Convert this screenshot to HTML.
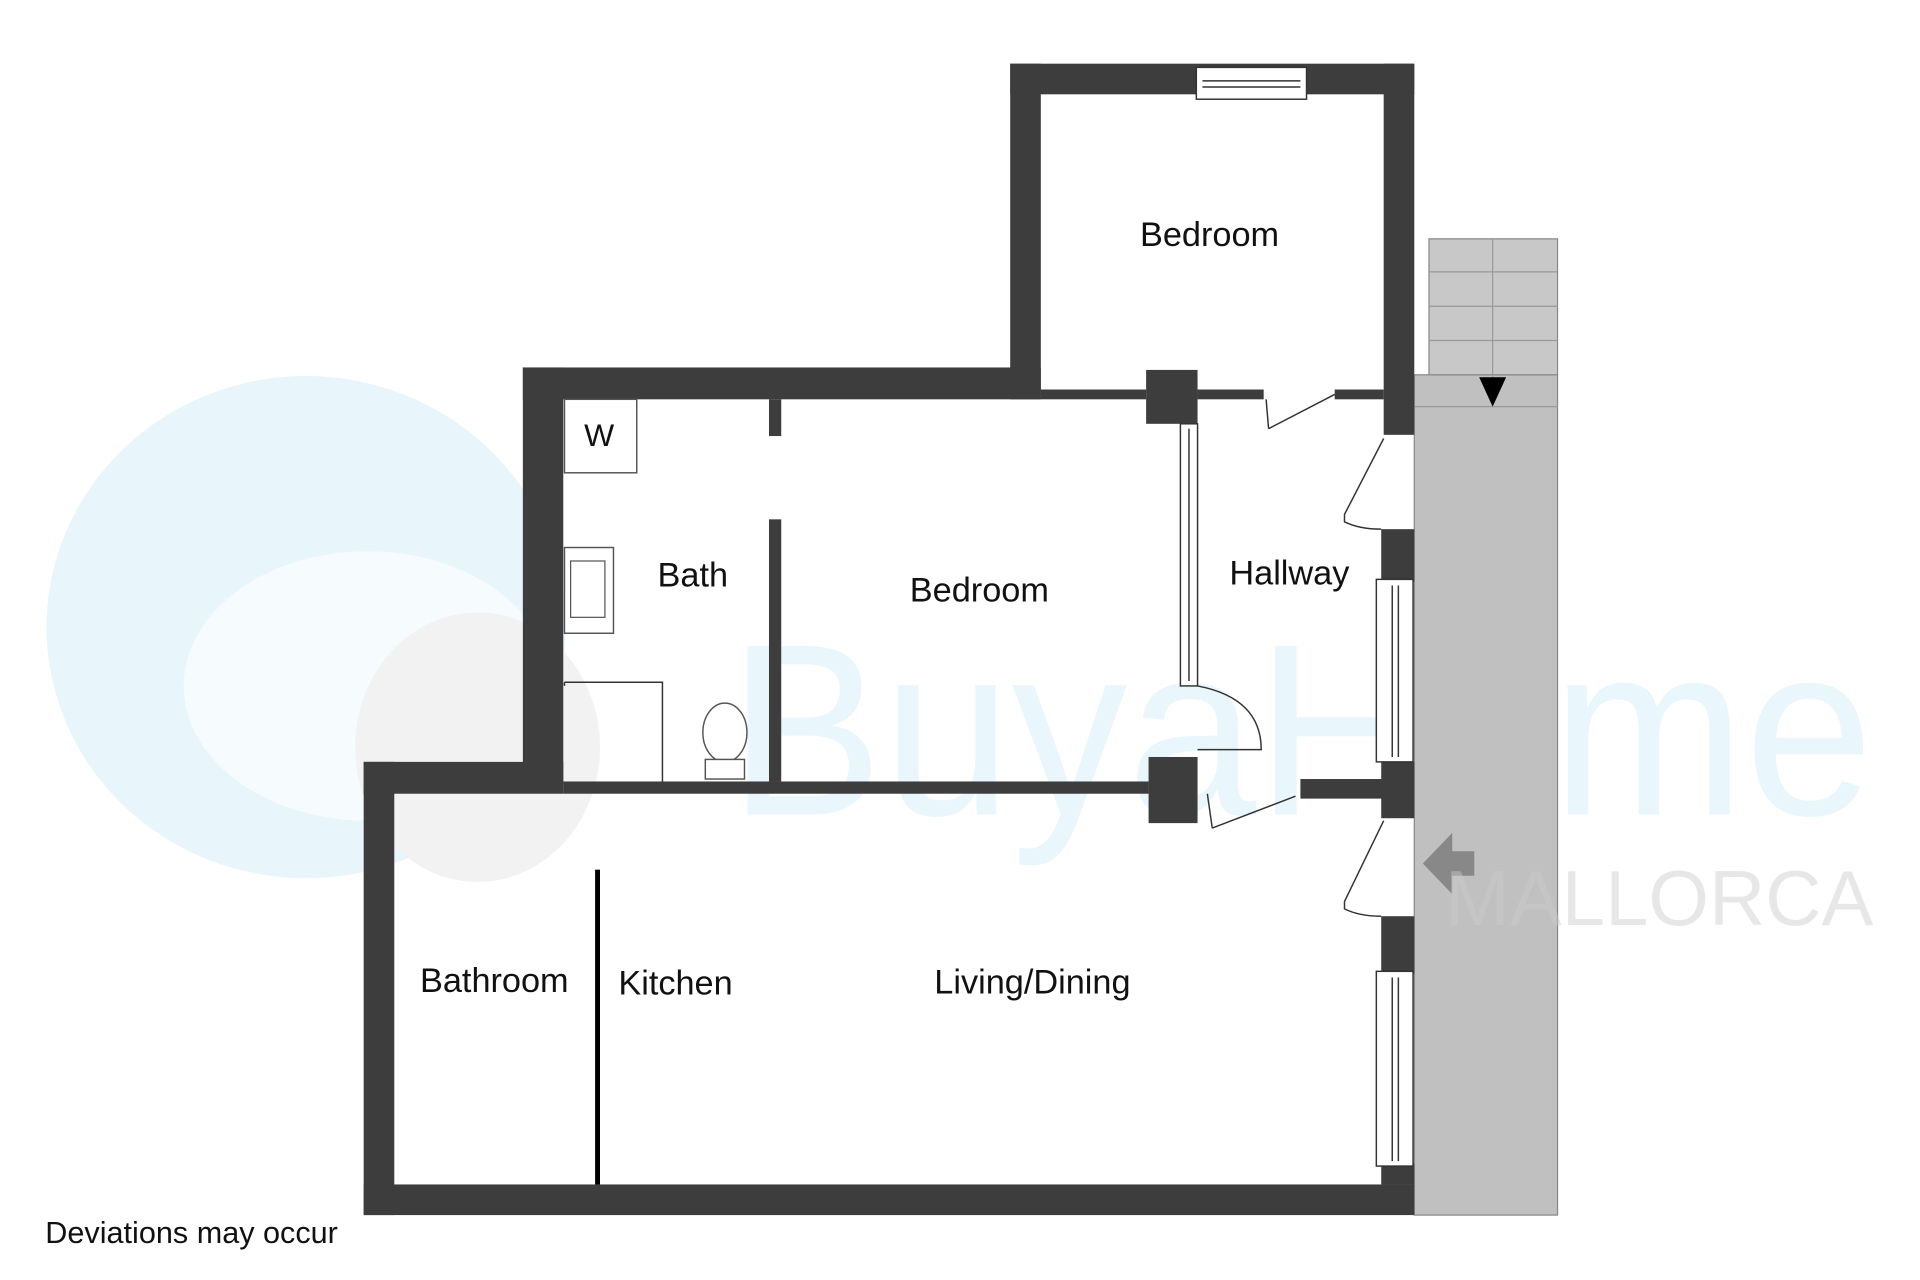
<!DOCTYPE html>
<html><head><meta charset="utf-8"><style>
html,body{margin:0;padding:0;background:#fff;}
svg{display:block;}
text{font-family:"Liberation Sans",sans-serif;}
</style></head><body>
<svg width="1920" height="1280" viewBox="0 0 1568 1045" preserveAspectRatio="none" xmlns="http://www.w3.org/2000/svg">
<rect width="1568" height="1045" fill="#fff"/>
<!-- watermark -->
<ellipse cx="250" cy="512" rx="212" ry="205" fill="#e8f5fb"/>
<ellipse cx="300" cy="560" rx="150" ry="110" fill="#fff" opacity="0.6"/>
<ellipse cx="390" cy="610" rx="100" ry="110" fill="#f2f2f2"/>
<text x="595" y="665" font-size="200" fill="#e9f6fc" textLength="935" lengthAdjust="spacingAndGlyphs">BuyaHome</text>
<!-- right exterior -->
<rect x="1155" y="306" width="117" height="686" fill="#c0c0c0" stroke="#888" stroke-width="1"/>
<rect x="1167" y="195" width="105" height="111" fill="#c8c8c8" stroke="#888" stroke-width="1"/>
<g stroke="#999" stroke-width="1">
<line x1="1167" y1="222" x2="1272" y2="222"/><line x1="1167" y1="250" x2="1272" y2="250"/><line x1="1167" y1="278" x2="1272" y2="278"/>
<line x1="1219" y1="195" x2="1219" y2="330"/><line x1="1155" y1="332" x2="1272" y2="332"/>
</g>
<polygon points="1208,308 1230,308 1219,332" fill="#000"/>
<polygon points="1162,705 1186,680 1186,695 1204,695 1204,715 1186,715 1186,730" fill="#888"/>
<!-- walls -->
<g fill="#3d3d3d">
<rect x="825" y="52" width="330" height="25"/>
<rect x="825" y="52" width="25" height="274"/>
<rect x="1130" y="52" width="25" height="303"/>
<rect x="427" y="300" width="423" height="26"/>
<rect x="427" y="300" width="33" height="340"/>
<rect x="850" y="318" width="86" height="8"/>
<rect x="936" y="302" width="42" height="44"/>
<rect x="978" y="318" width="54" height="8"/>
<rect x="1090" y="318" width="40" height="8"/>
<rect x="297" y="622" width="163" height="26"/>
<rect x="297" y="622" width="25" height="370"/>
<rect x="297" y="967" width="858" height="25"/>
<rect x="460" y="638" width="478" height="10"/>
<rect x="938" y="618" width="40" height="54"/>
<rect x="1062" y="636" width="68" height="16"/>
<rect x="1128" y="432" width="27" height="43"/>
<rect x="1128" y="622" width="27" height="46"/>
<rect x="1128" y="748" width="27" height="47"/>
<rect x="1128" y="950" width="27" height="17"/>
<rect x="628" y="326" width="10" height="30"/>
<rect x="628" y="424" width="10" height="214"/>
</g>
<rect x="486" y="710" width="4" height="257" fill="#000"/>
<!-- windows -->
<g fill="#fff" stroke="#333" stroke-width="1.2">
<rect x="977" y="55" width="90" height="26"/><line x1="982" y1="66" x2="1062" y2="66"/><line x1="982" y1="71" x2="1062" y2="71"/>
<rect x="1124" y="473" width="30" height="149"/><line x1="1137" y1="478" x2="1137" y2="618"/><line x1="1142" y1="478" x2="1142" y2="618"/>
<rect x="1124" y="793" width="30" height="159"/><line x1="1137" y1="798" x2="1137" y2="948"/><line x1="1142" y1="798" x2="1142" y2="948"/>
<rect x="964" y="346" width="14" height="214"/><line x1="971" y1="350" x2="971" y2="556"/>
</g>
<!-- doors -->
<g fill="none" stroke="#333" stroke-width="1.2">
<path d="M1036,350 L1090,322 M1036,350 L1034,326"/>
<path d="M1130,358 L1098,420 L1098,426 Q1110,432 1128,432"/>
<path d="M1130,670 L1098,736 L1098,742 Q1110,748 1128,748"/>
<path d="M978,560 Q1030,570 1030,612 L978,612"/>
<path d="M990,676 L1058,650 M990,676 L986,648"/>
<path d="M461,557 L541,557 L541,638 M461,557 L461,560"/>
</g>
<rect x="461" y="326" width="59" height="60" fill="#fff" stroke="#555" stroke-width="1.2"/>
<rect x="461" y="447" width="40" height="70" fill="#fff" stroke="#555" stroke-width="1.2"/>
<rect x="466" y="458" width="28" height="46" fill="none" stroke="#555" stroke-width="1"/>
<ellipse cx="592" cy="598" rx="18" ry="24" fill="#fff" stroke="#555" stroke-width="1.2"/>
<rect x="576" y="620" width="32" height="16" fill="#fff" stroke="#555" stroke-width="1.2"/>
<text x="1180" y="755" font-size="64" fill="#cccccc" opacity="0.45" textLength="350" lengthAdjust="spacingAndGlyphs">MALLORCA</text>
<!-- labels -->
<g font-size="28" fill="#111">
<text x="477" y="364" font-size="26">W</text>
<text x="931" y="201">Bedroom</text>
<text x="537" y="479">Bath</text>
<text x="743" y="491">Bedroom</text>
<text x="1004" y="477">Hallway</text>
<text x="343" y="810">Bathroom</text>
<text x="505" y="812">Kitchen</text>
<text x="763" y="811">Living/Dining</text>
<text x="37" y="1015" font-size="25">Deviations may occur</text>
</g>
</svg>
</body></html>
